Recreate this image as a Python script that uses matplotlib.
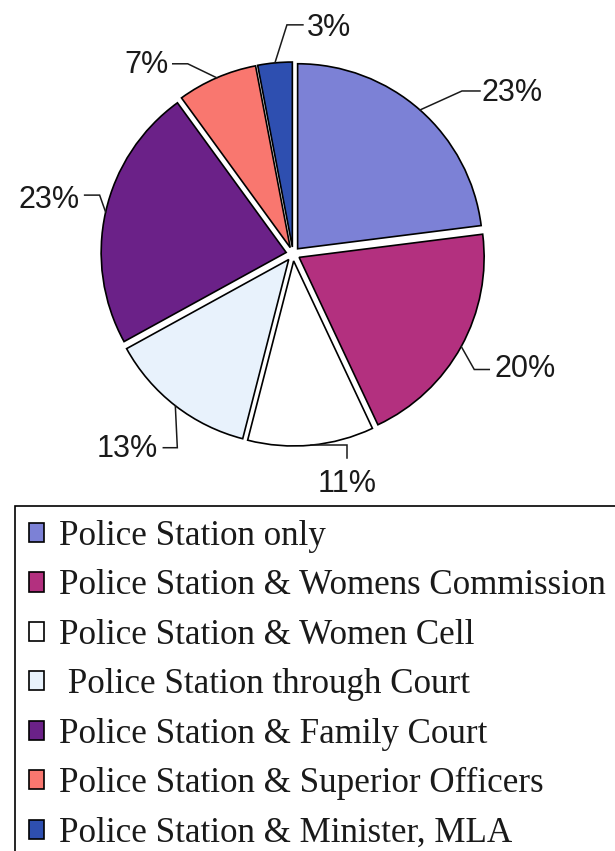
import matplotlib
matplotlib.use("Agg")
import matplotlib.pyplot as plt
import numpy as np

# Routes taken by complainants (share of respondents, %)
categories = [
    "Police Station only",
    "Police Station & Womens Commission",
    "Police Station & Women Cell",
    " Police Station through Court",
    "Police Station & Family Court",
    "Police Station & Superior Officers",
    "Police Station & Minister, MLA",
]
shares = [23, 20, 11, 13, 23, 7, 3]
colors = ["#7c81d6", "#b3307f", "#ffffff", "#e8f2fc", "#6b2188", "#f9776f", "#2e4fb0"]

W, H = 615, 851
fig = plt.figure(figsize=(W / 100, H / 100), dpi=100)
ax = fig.add_axes([0, 0, 1, 1])

# pixel-like data space, y pointing up
CENTER = (293, H - 254)
RADIUS = 185
GAP = 7

wedges, _ = ax.pie(
    shares,
    colors=colors,
    startangle=90,
    counterclock=False,
    center=CENTER,
    radius=RADIUS,
    explode=[GAP] * len(shares),
    wedgeprops=dict(edgecolor="black", linewidth=1.2),
)
ax.set_xlim(0, W)
ax.set_ylim(0, H)
ax.set_aspect("equal")
ax.axis("off")

# leader-line shapes (relative to the point on the rim) and text placement
leaders = [
    ([(0, 0), (42, 19), (60, 19)], (62, 17), "left"),
    ([(0, 0), (13, -23), (28, -23)], (33, -23), "left"),
    ([(0, 0), (36, 0), (36, -13)], (36, -39), "center"),
    ([(0, 0), (2, -42), (-12, -42)], (-17, -43), "right"),
    ([(0, 0), (-6, 17), (-21, 17)], (-26, 12), "right"),
    ([(0, 0), (-29, 14), (-44, 14)], (-48, 13), "right"),
    ([(0, 0), (12, 38), (28, 38)], (32, 35), "left"),
]

for w, v, (path, txt, ha) in zip(wedges, shares, leaders):
    th = np.deg2rad(0.5 * (w.theta1 + w.theta2))
    cx, cy = w.center
    ax_, ay_ = cx + w.r * np.cos(th), cy + w.r * np.sin(th)
    xs = [ax_ + p[0] for p in path]
    ys = [ay_ + p[1] for p in path]
    ax.plot(xs, ys, color="#1a1a1a", lw=1.1, solid_joinstyle="miter")
    ax.text(ax_ + txt[0], ay_ + txt[1], f"{v}%", ha=ha, va="center",
            fontsize=22, family="Liberation Sans", color="#1a1a1a")

leg = fig.legend(
    handles=wedges,
    labels=categories,
    loc="upper left",
    bbox_to_anchor=(15 / W, 1 - 506 / H),
    borderaxespad=0,
    prop=dict(family="Liberation Serif", size=25.2),
    frameon=True,
    fancybox=False,
    framealpha=1,
    edgecolor="black",
    borderpad=0.4,
    handlelength=0.43,
    handleheight=0.46,
    handletextpad=0.42,
    labelspacing=0.47,
)
leg.get_frame().set_linewidth(1.2)
for t in leg.get_texts():
    t.set_color("#1a1a1a")

fig.savefig("out.png", dpi=100)
